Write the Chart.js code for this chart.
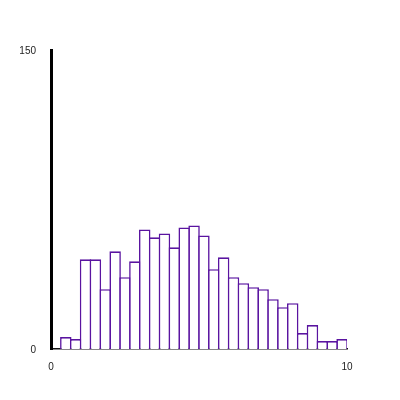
<!DOCTYPE html>
<html>
<head>
<meta charset="utf-8">
<script src="https://cdn.jsdelivr.net/npm/chart.js@4/dist/chart.umd.min.js"></script>
<style>
  html, body { margin: 0; padding: 0; background: #fff; }
  #wrap { width: 400px; height: 400px; }
</style>
</head>
<body>
<div id="wrap"><canvas id="histchart" width="400" height="400"></canvas></div>
<script>
// 30 bins of width 1/3 between 0 and 10
const bins = ["0-0.33", "0.33-0.67", "0.67-1", "1-1.33", "1.33-1.67", "1.67-2",
  "2-2.33", "2.33-2.67", "2.67-3", "3-3.33", "3.33-3.67", "3.67-4",
  "4-4.33", "4.33-4.67", "4.67-5", "5-5.33", "5.33-5.67", "5.67-6",
  "6-6.33", "6.33-6.67", "6.67-7", "7-7.33", "7.33-7.67", "7.67-8",
  "8-8.33", "8.33-8.67", "8.67-9", "9-9.33", "9.33-9.67", "9.67-10"];
const counts = [0, 6, 5, 45, 45, 30, 49, 36, 44, 60, 56, 58, 51, 61, 62,
  57, 40, 46, 36, 33, 31, 30, 25, 21, 23, 8, 12, 4, 4, 5];
const xTicks = [0, 10];
const yTicks = [0, 150];

const tickFont = { family: "'Liberation Sans', Arial, sans-serif", size: 10 };

const ctx = document.getElementById("histchart");
new Chart(ctx, {
  type: "bar",
  data: {
    labels: bins,
    datasets: [{
      data: counts,
      xAxisID: "bins",
      backgroundColor: "#ffffff",
      borderColor: "#5a14a0",
      borderWidth: 1.6,
      // overlap neighbours by one border width so shared edges stay single
      barPercentage: 1.162,
      categoryPercentage: 1
    }]
  },
  options: {
    responsive: false,
    animation: false,
    layout: { padding: { top: 50, right: 53, left: 0, bottom: 0 } },
    plugins: { legend: { display: false }, tooltip: { enabled: false } },
    scales: {
      bins: {
        type: "category",
        position: "bottom",
        display: false
      },
      x: {
        type: "linear",
        position: "bottom",
        offset: false,
        min: xTicks[0],
        max: xTicks[xTicks.length - 1],
        afterBuildTicks: (s) => { s.ticks = xTicks.map(v => ({ value: v })); },
        afterFit: (s) => { s.height = 51; },
        grid: { display: false, drawTicks: false, offset: false },
        border: { display: true, color: "#111", width: 1.5 },
        ticks: { color: "#222", font: tickFont, padding: 12, maxRotation: 0 }
      },
      y: {
        min: yTicks[0],
        max: yTicks[yTicks.length - 1],
        afterBuildTicks: (s) => { s.ticks = yTicks.map(v => ({ value: v })); },
        afterFit: (s) => { s.width = 51; },
        grid: { display: false, drawTicks: false },
        border: { display: true, color: "#000", width: 3 },
        ticks: { color: "#222", font: tickFont, padding: 15, labelOffset: 1 }
      }
    }
  }
});
</script>
</body>
</html>
